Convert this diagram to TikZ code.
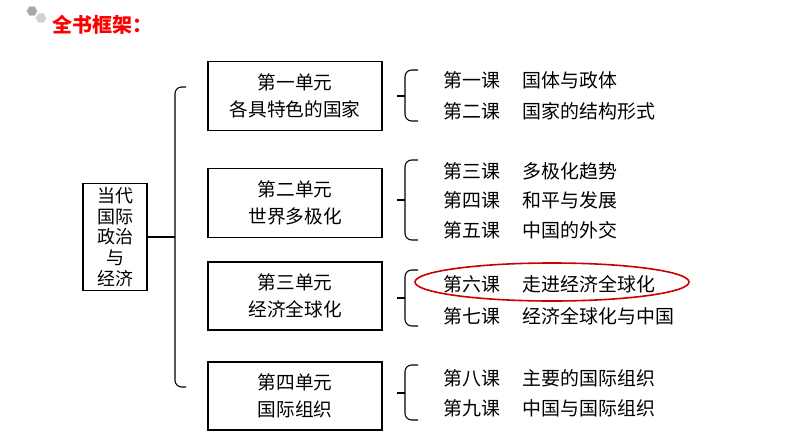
\documentclass[tikz,border=0pt]{standalone}
\usepackage{fontspec}
\setmainfont{Noto Sans CJK SC}
\usetikzlibrary{shapes.geometric}
\begin{document}
\begin{tikzpicture}[x=0.75pt,y=-0.75pt,
  box/.style={draw,line width=0.8pt,minimum width=174*0.75pt,align=center,font=\fontsize{14}{20}\selectfont,inner sep=0pt},
  les/.style={anchor=west,font=\fontsize{14.2}{16}\selectfont,inner sep=0pt},
  br/.style={line width=0.8pt,rounded corners=5pt}]
\useasboundingbox (0,0) rectangle (794,447);
\node[regular polygon,regular polygon sides=6,fill=gray!70,draw=gray!30,minimum size=8pt,inner sep=0pt] (g1) at (32,11) {};
\node[regular polygon,regular polygon sides=6,fill=gray!35,draw=gray!20,minimum size=8pt,inner sep=0pt] (g2) at (41,18) {};
\node[anchor=west,text=red,font=\fontsize{15}{18}\selectfont\bfseries,inner sep=0pt] (title) at (52,25) {全书框架：};
\node[draw,line width=0.8pt,minimum width=64*0.75pt,minimum height=107*0.75pt,align=center,font=\fontsize{13.5}{15.5}\selectfont,inner sep=0pt] (root) at (115,237) {当代\\国际\\政治\\与\\经济};
\node[box,minimum height=69*0.75pt] (u1) at (295,96) {第一单元\\各具特色的国家};
\node[box,minimum height=69*0.75pt] (u2) at (295,203) {第二单元\\世界多极化};
\node[box,minimum height=68*0.75pt] (u3) at (295,296) {第三单元\\经济全球化};
\node[box,minimum height=68*0.75pt] (u4) at (295,396) {第四单元\\国际组织};
% big bracket
\coordinate (bt) at (186,87); \coordinate (bb) at (186,387);
\draw[br] (bt) -- (175,87) -- (175,387) -- (bb);
\draw[line width=0.8pt] (root.east) -- (175,237);
% small brackets
\foreach \t/\b/\m in {70/121/96,160/240/200,270/326/298,365/420/393}{
  \draw[br] (418,\t) -- (405,\t) -- (405,\b) -- (418,\b);
  \draw[line width=0.8pt] (397,\m) -- (405,\m);
}
\node[les] (l1) at (443,80) {第一课\hspace{1.2em}国体与政体};
\node[les] (l2) at (443,111) {第二课\hspace{1.2em}国家的结构形式};
\node[les] (l3) at (443,171) {第三课\hspace{1.2em}多极化趋势};
\node[les] (l4) at (443,200) {第四课\hspace{1.2em}和平与发展};
\node[les] (l5) at (443,230) {第五课\hspace{1.2em}中国的外交};
\node[les] (l6) at (443,284) {第六课\hspace{1.2em}走进经济全球化};
\node[les] (l7) at (443,316) {第七课\hspace{1.2em}经济全球化与中国};
\node[les] (l8) at (443,378) {第八课\hspace{1.2em}主要的国际组织};
\node[les] (l9) at (443,408) {第九课\hspace{1.2em}中国与国际组织};
\draw[red!80!black,line width=1.2pt] (552,282) ellipse (137 and 19);
\end{tikzpicture}
\end{document}
